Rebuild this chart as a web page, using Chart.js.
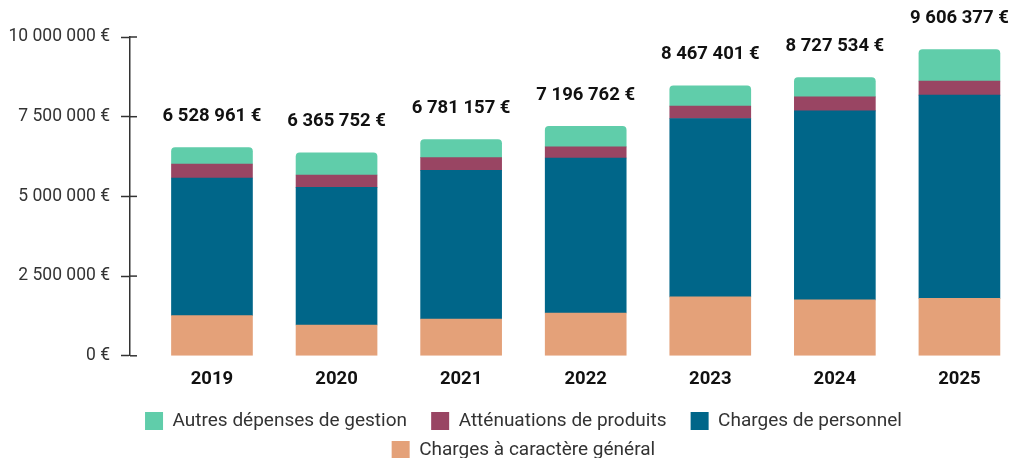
<!DOCTYPE html>
<html lang="fr">
<head>
<meta charset="utf-8">
<title>Dépenses de fonctionnement</title>
<script src="https://cdn.jsdelivr.net/npm/chart.js@4.4.1/dist/chart.umd.min.js"></script>
<style>
  html, body { margin: 0; padding: 0; background: #fff; overflow: hidden; }
  #wrap { width: 1011px; height: 458px; }
</style>
</head>
<body>
<div id="wrap"><canvas id="chart"></canvas></div>
<script>
const years = [2019, 2020, 2021, 2022, 2023, 2024, 2025];
const chargesGenerales = [1258000, 965000, 1154000, 1343000, 1846000, 1752000, 1802000];
const chargesPersonnel = [4318000, 4318000, 4664000, 4862000, 5597000, 5931000, 6374000];
const attenuations = [440000, 388000, 400000, 346000, 387000, 440000, 440000];
const autresDepenses = [513000, 695000, 563000, 646000, 637000, 605000, 990000];
const totals = [6528961, 6365752, 6781157, 7196762, 8467401, 8727534, 9606377];
const yTicks = [0, 2500000, 5000000, 7500000, 10000000];

function euros(v) {
  return String(Math.round(v)).replace(/\B(?=(\d{3})+(?!\d))/g, " ") + " €";
}

function serie(values) {
  return values.map((v, i) => ({ x: years[i], y: v }));
}

// petites graduations qui dépassent à droite de l'axe
const innerTicks = {
  id: "innerTicks",
  afterDraw(chart) {
    const y = chart.scales.y;
    const ctx = chart.ctx;
    ctx.save();
    ctx.strokeStyle = "#333";
    ctx.lineWidth = 1.5;
    yTicks.forEach((t) => {
      const py = y.getPixelForValue(t);
      ctx.beginPath();
      ctx.moveTo(y.right, py);
      ctx.lineTo(y.right + 7, py);
      ctx.stroke();
    });
    ctx.restore();
  },
};

// total au-dessus de chaque barre
const totalLabels = {
  id: "totalLabels",
  afterDatasetsDraw(chart) {
    const ctx = chart.ctx;
    const meta = chart.getDatasetMeta(chart.data.datasets.length - 1);
    ctx.save();
    ctx.font = "bold 18.5px Roboto";
    ctx.fillStyle = "#111";
    ctx.textAlign = "center";
    ctx.textBaseline = "middle";
    meta.data.forEach((bar, i) => {
      ctx.fillText(euros(totals[i]), bar.x, bar.y - 31);
    });
    ctx.restore();
  },
};

// la légende est un peu décalée vers la droite sur l'original
const legendShift = {
  id: "legendShift",
  afterLayout(chart) {
    chart.legend.left += 25;
    chart.legend.right += 25;
  },
};

new Chart(document.getElementById("chart"), {
  type: "bar",
  data: {
    datasets: [
      { label: "Charges à caractère général", data: serie(chargesGenerales), backgroundColor: "#e4a179" },
      { label: "Charges de personnel", data: serie(chargesPersonnel), backgroundColor: "#006689" },
      { label: "Atténuations de produits", data: serie(attenuations), backgroundColor: "#994563" },
      {
        label: "Autres dépenses de gestion",
        data: serie(autresDepenses),
        backgroundColor: "#60cdaa",
        borderRadius: { topLeft: 4, topRight: 4 },
        borderSkipped: "bottom",
      },
    ],
  },
  options: {
    responsive: true,
    maintainAspectRatio: false,
    animation: false,
    barThickness: 81,
    layout: { padding: { top: 37, left: 0, right: 0, bottom: -11.5 } },
    scales: {
      x: {
        type: "linear",
        stacked: true,
        offset: false,
        min: 2018.342,
        max: 2025.414,
        afterBuildTicks: (s) => { s.ticks = years.map((v) => ({ value: v })); },
        afterFit: (s) => { s.height += 7.5; },
        grid: { display: false, offset: false },
        border: { display: false },
        ticks: {
          padding: 4,
          color: "#111",
          font: { family: "Roboto", size: 18.5, weight: "bold" },
          callback: (v) => String(v),
        },
      },
      y: {
        stacked: true,
        min: 0,
        max: 10000000,
        afterFit: (s) => { s.width = 130; },
        afterBuildTicks: (s) => { s.ticks = yTicks.map((v) => ({ value: v })); },
        border: { display: true, color: "#333", width: 1.5 },
        grid: { drawOnChartArea: false, tickLength: 9, tickColor: "#333", tickWidth: 1.5 },
        ticks: {
          padding: 11,
          color: "#333",
          font: { family: "Roboto", size: 17.5 },
          callback: (v) => euros(v),
        },
      },
    },
    plugins: {
      legend: {
        position: "bottom",
        reverse: true,
        labels: {
          boxWidth: 18,
          boxHeight: 18,
          padding: 10,
          color: "#333",
          font: { family: "Roboto", size: 19 },
          generateLabels: (chart) =>
            Chart.defaults.plugins.legend.labels.generateLabels(chart).map((l) => {
              l.text = l.text + "   ";
              return l;
            }),
        },
      },
      tooltip: { enabled: false },
    },
  },
  plugins: [innerTicks, totalLabels, legendShift],
});
</script>
</body>
</html>
